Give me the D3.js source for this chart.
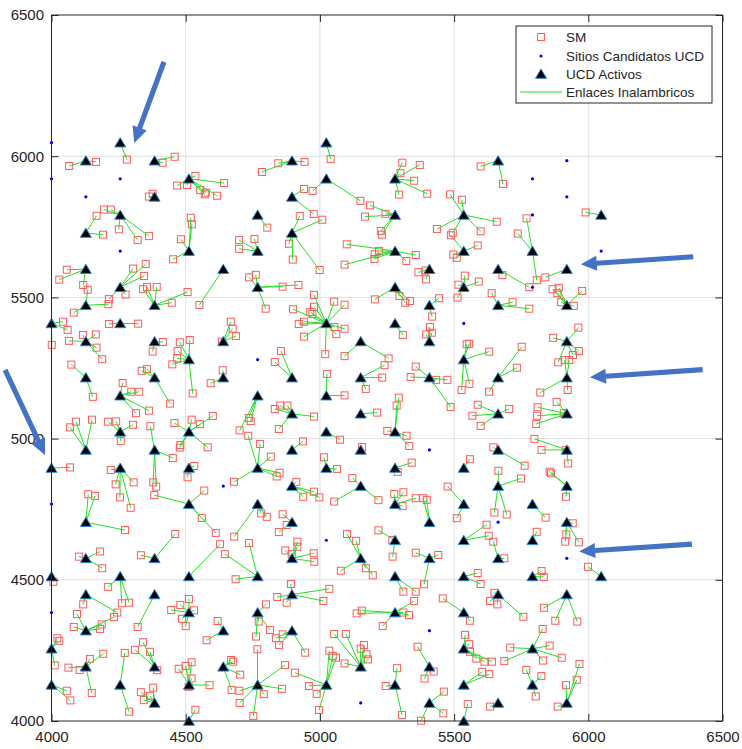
<!DOCTYPE html>
<html>
<head>
<meta charset="utf-8">
<script src="https://cdn.jsdelivr.net/npm/d3@7"></script>
<style>
  body { margin: 0; background: #fff; }
  svg { display: block; }
  text { font-family: "Liberation Sans", Arial, sans-serif; fill: #262626; }
</style>
</head>
<body>
<svg id="chart" width="742" height="749"></svg>
<script>
// --- Datos ---
const ticks = [4000, 4500, 5000, 5500, 6000, 6500];

// UCD activos (triangulos)
const ucdActivos = [
  [4256,6048],[5024,6048],
  [4128,5984],[4384,5984],[4896,5984],[5664,5984],
  [4512,5920],[5024,5920],[5280,5920],
  [4384,5856],[4896,5856],
  [4256,5792],[4768,5792],[5280,5792],[5536,5792],[6048,5792],
  [4128,5728],[4896,5728],
  [4512,5664],[4768,5664],[5280,5664],[5536,5664],[5792,5664],
  [4128,5600],[4640,5600],[5408,5600],[5664,5600],[5920,5600],
  [4256,5536],[4768,5536],[5280,5536],[5536,5536],
  [4128,5472],[4384,5472],[5408,5472],[5664,5472],[5920,5472],
  [4000,5408],[4256,5408],[5024,5408],[5280,5408],
  [4128,5344],[4384,5344],[4640,5344],[5152,5344],[5408,5344],[5920,5344],
  [4512,5280],[5536,5280],
  [4128,5216],[4384,5216],[4640,5216],[4896,5216],[5152,5216],[5408,5216],[5664,5216],[5920,5216],
  [4256,5152],[4768,5152],[5024,5152],
  [4896,5088],[5152,5088],[5664,5088],[5920,5088],
  [4256,5024],[4512,5024],[5024,5024],[5280,5024],
  [4128,4960],[4384,4960],[4896,4960],[5152,4960],[5664,4960],[5920,4960],
  [4000,4896],[4256,4896],[4512,4896],[4768,4896],[5024,4896],[5280,4896],[5536,4896],
  [4896,4832],[5152,4832],[5664,4832],[5920,4832],
  [4512,4768],[4768,4768],[5280,4768],[5536,4768],[5792,4768],
  [4128,4704],[4896,4704],[5408,4704],[5920,4704],
  [5280,4640],[5536,4640],[5792,4640],
  [4128,4576],[4384,4576],[4896,4576],[5152,4576],[5408,4576],[5664,4576],
  [4000,4512],[4256,4512],[4512,4512],[4768,4512],[5280,4512],[5536,4512],[5792,4512],[6048,4512],
  [4128,4448],[4384,4448],[4896,4448],[5664,4448],[5920,4448],
  [4512,4384],[4768,4384],[5280,4384],[5536,4384],
  [4128,4320],[4640,4320],[4896,4320],
  [4000,4256],[5536,4256],[5792,4256],
  [4128,4192],[4384,4192],[4640,4192],[5152,4192],[5408,4192],
  [4000,4128],[4256,4128],[4512,4128],[4768,4128],[5024,4128],[5280,4128],[5536,4128],[5792,4128],
  [4384,4064],[5408,4064],[5664,4064],[5920,4064],
  [4512,4000],[5536,4000]
];

// Sitios candidatos no usados (puntos azules)
const sitiosCandidatos = [
  [4000,6048],[4000,5920],[4256,5920],[4128,5856],[4256,5664],[4768,5280],
  [4640,4832],[4000,4768],[4000,4384],[5024,4640],[5152,4064],[5408,4320],
  [5536,5408],[5792,5536],[5408,4960],[5664,4704],[5920,4576],[6048,5664],
  [5792,5920],[5920,5984],[5920,5856],[5792,5792]
];

// SM: [x, y, x UCD, y UCD]
const sm = [
  [4066,5965,4128,5984],[4166,5980,4128,5984],[4281,5988,4256,6048],[4414,5977,4384,5984],[4459,5998,4384,5984],
  [4468,5896,4512,5920],[4505,5898,4512,5920],[4536,5930,4512,5920],[4554,5880,4512,5920],[4575,5871,4512,5920],
  [4571,5865,4512,5920],[4617,5860,4512,5920],[4643,5905,4512,5920],[4377,5867,4384,5856],[4363,5857,4384,5856],
  [4196,5811,4256,5792],[4221,5811,4256,5792],[4168,5789,4128,5728],[4251,5741,4256,5792],[4321,5703,4256,5792],
  [4363,5717,4256,5792],[4192,5722,4128,5728],[4482,5706,4512,5664],[4519,5782,4512,5664],[4523,5759,4512,5664],
  [5040,5990,5024,6048],[4845,5975,4896,5984],[4943,5980,4896,5984],[4784,5944,4896,5984],[4941,5884,4896,5856],
  [4973,5877,5024,5920],[5151,5842,5024,5920],[5187,5826,5280,5792],[5244,5796,5280,5792],[5168,5786,5280,5792],
  [5227,5735,5280,5792],[5231,5722,5280,5792],[4977,5795,4896,5856],[4804,5747,4768,5792],[4925,5788,4896,5728],
  [5009,5775,4896,5728],[4885,5690,4896,5728],[4699,5703,4768,5664],[4756,5707,4768,5664],[4699,5672,4768,5664],
  [5100,5688,5280,5664],[5307,5977,5280,5920],[5372,5969,5280,5920],[5300,5940,5280,5920],[5351,5913,5280,5920],
  [5400,5867,5280,5920],[5295,5864,5280,5920],[5599,5964,5664,5984],[5682,5902,5664,5984],[5485,5865,5536,5792],
  [5529,5846,5536,5792],[5659,5768,5536,5792],[5436,5742,5536,5792],[5599,5734,5536,5792],[5495,5729,5536,5792],
  [5488,5720,5536,5664],[5588,5684,5536,5664],[5770,5780,5792,5664],[5737,5726,5792,5664],[5990,5801,6048,5792],
  [4453,5635,4512,5664],[4057,5598,4128,5600],[4029,5563,4128,5600],[4118,5544,4128,5600],[4135,5527,4128,5472],
  [4304,5602,4256,5536],[4351,5618,4256,5536],[4345,5576,4256,5536],[4276,5510,4256,5536],[4214,5494,4256,5536],
  [4212,5476,4128,5472],[4083,5446,4128,5472],[4341,5529,4384,5472],[4356,5537,4384,5472],[4392,5537,4384,5472],
  [4448,5481,4384,5472],[4507,5519,4384,5472],[4551,5473,4640,5600],[4043,5414,4000,5408],[4060,5385,4000,5408],
  [4001,5332,4000,5408],[4214,5406,4256,5408],[4323,5407,4256,5408],[4065,5346,4128,5344],[4117,5367,4128,5344],
  [4165,5369,4128,5344],[4168,5322,4128,5344],[4189,5281,4128,5344],[4415,5342,4384,5344],[4377,5308,4384,5344],
  [4478,5341,4512,5280],[4515,5349,4512,5280],[4468,5284,4512,5280],[4450,5263,4512,5280],[4470,5310,4512,5280],
  [4526,5160,4512,5280],[4593,5196,4640,5216],[4074,5262,4128,5216],[4154,5148,4128,5216],[4336,5240,4384,5216],
  [4356,5246,4384,5216],[4442,5124,4384,5216],[4265,5197,4256,5152],[4297,5166,4256,5152],[4327,5166,4256,5152],
  [4315,5090,4256,5152],[4363,5099,4256,5152],[4069,5040,4128,4960],[4091,5060,4128,4960],[4151,5067,4128,4960],
  [4211,5060,4256,5024],[4241,5061,4256,5024],[4304,5049,4256,5024],[4258,4992,4256,5024],[4368,5044,4384,4960],
  [4452,4931,4384,4960],[4458,5055,4512,5024],[4522,5067,4512,5024],[4553,5051,4512,5024],[4601,5080,4512,5024],
  [4480,4977,4512,5024],[4478,4968,4512,5024],[4582,4969,4512,5024],[4069,4898,4000,4896],[4221,4889,4256,4896],
  [4239,4838,4256,4896],[4306,4845,4256,4896],[4532,4903,4512,4896],[4507,4863,4512,4896],[4379,4845,4384,4960],
  [4390,4830,4384,4960],[4899,5634,4896,5728],[4999,5597,4896,5728],[5092,5616,5280,5664],[5203,5636,5280,5664],
  [5204,5653,5280,5664],[5220,5664,5280,5664],[4736,5571,4768,5536],[4761,5580,4768,5536],[4861,5538,4768,5536],
  [4920,5544,4768,5536],[4798,5460,4768,5536],[4978,5509,5024,5408],[5053,5485,5024,5408],[5092,5474,5024,5408],
  [4900,5458,5024,5408],[4978,5467,5024,5408],[4964,5448,5024,5408],[4972,5441,5024,5408],[4921,5406,5024,5408],
  [4941,5414,5024,5408],[5054,5395,5024,5408],[5061,5370,5024,5408],[5092,5389,5024,5408],[4941,5361,5024,5408],
  [5020,5299,5024,5408],[5205,5493,5280,5536],[4668,5414,4640,5344],[4675,5389,4640,5344],[4687,5363,4640,5344],
  [4635,5343,4640,5344],[5092,5292,5152,5344],[5256,5284,5152,5344],[5241,5260,5152,5216],[5232,5216,5152,5216],
  [5171,5176,5152,5216],[4855,5310,4896,5216],[4832,5271,4896,5216],[4638,5242,4640,5216],[5026,5229,5024,5152],
  [5092,5153,5024,5152],[4735,5073,4768,5152],[4742,5062,4768,5152],[4701,5029,4768,5152],[4852,5117,4896,5088],
  [4879,5117,4896,5088],[4832,5105,4896,5088],[4978,5078,4896,5088],[4847,5034,4896,5088],[5213,5092,5152,5088],
  [5075,4996,5024,5024],[5251,5027,5280,5024],[4937,4990,4896,4960],[4733,5010,4768,4896],[4777,4981,4768,4896],
  [4817,4936,4768,4896],[4680,4847,4768,4896],[4839,4866,4768,4896],[4850,4879,4768,4896],[4912,4847,4896,4832],
  [5157,4970,5152,4960],[5015,4934,5024,4896],[5064,4892,5024,4896],[5121,4860,5152,4832],[5357,5650,5280,5664],
  [5322,5629,5280,5664],[5510,5640,5536,5664],[5497,5652,5536,5664],[5367,5589,5408,5600],[5394,5595,5408,5600],
  [5395,5564,5408,5600],[5680,5579,5664,5600],[5780,5536,5664,5600],[5808,5561,5792,5664],[5840,5571,5920,5600],
  [5540,5577,5536,5536],[5516,5545,5536,5536],[5592,5556,5536,5536],[5513,5499,5536,5536],[5296,5505,5280,5536],
  [5318,5481,5280,5536],[5336,5487,5280,5536],[5444,5497,5408,5472],[5418,5432,5408,5472],[5640,5515,5664,5472],
  [5718,5483,5664,5472],[5780,5460,5664,5472],[5867,5529,5920,5472],[5890,5534,5920,5472],[5885,5515,5920,5472],
  [5899,5483,5920,5472],[5977,5523,5920,5472],[5946,5470,5920,5472],[5309,5367,5280,5408],[5410,5395,5408,5344],
  [5396,5369,5408,5344],[5417,5375,5408,5344],[5547,5334,5536,5280],[5556,5336,5536,5280],[5631,5308,5536,5280],
  [5528,5172,5536,5280],[5557,5194,5536,5280],[5752,5325,5664,5216],[5734,5251,5664,5216],[5630,5166,5664,5216],
  [5869,5357,5920,5344],[5963,5393,5920,5344],[5965,5310,5920,5344],[5943,5296,5920,5344],[5929,5278,5920,5216],
  [5912,5278,5920,5216],[5888,5270,5920,5344],[5821,5163,5920,5216],[5923,5172,5920,5216],[5357,5255,5408,5216],
  [5338,5218,5408,5216],[5433,5208,5408,5216],[5475,5208,5408,5216],[5487,5112,5408,5216],[5294,5145,5280,5024],
  [5286,5117,5280,5024],[5323,5010,5280,5024],[5333,4974,5280,5024],[5588,5120,5664,5088],[5568,5081,5664,5088],
  [5599,5045,5664,5088],[5705,5105,5664,5088],[5811,5111,5920,5088],[5809,5081,5920,5088],[5806,5052,5920,5088],
  [5882,5130,5920,5088],[5909,5090,5920,5088],[5799,4999,5920,4960],[5826,4960,5920,4960],[5916,4959,5920,4960],
  [5925,4912,5920,4960],[5646,4969,5664,4960],[5763,4904,5664,4960],[5559,4927,5536,4896],[5342,4915,5280,4896],
  [5290,4882,5280,4896],[5665,4886,5664,4832],[5749,4859,5664,4832],[5856,4883,5920,4832],[5861,4877,5920,4832],
  [4137,4803,4128,4704],[4162,4797,4128,4704],[4274,4676,4128,4704],[4255,4792,4256,4896],[4295,4755,4256,4896],
  [4383,4800,4512,4768],[4569,4816,4512,4768],[4560,4719,4512,4768],[4612,4666,4512,4768],[4102,4582,4128,4576],
  [4181,4600,4128,4576],[4189,4541,4128,4576],[4333,4587,4384,4576],[4461,4662,4384,4576],[4628,4626,4512,4512],
  [4646,4591,4768,4512],[4007,4493,4000,4512],[4211,4475,4256,4512],[4262,4417,4256,4512],[4289,4419,4256,4512],
  [4118,4413,4128,4448],[4245,4384,4128,4448],[4233,4368,4128,4320],[4095,4379,4128,4320],[4083,4333,4128,4320],
  [4181,4326,4128,4320],[4187,4342,4128,4320],[4321,4333,4384,4448],[4446,4393,4512,4384],[4480,4411,4512,4384],
  [4512,4432,4512,4384],[4531,4392,4512,4384],[4486,4362,4512,4384],[4500,4336,4512,4384],[4619,4354,4640,4320],
  [4578,4286,4640,4320],[4022,4293,4000,4256],[4029,4284,4000,4256],[4012,4197,4000,4256],[4143,4220,4128,4192],
  [4193,4238,4128,4192],[4063,4189,4128,4192],[4105,4181,4128,4192],[4150,4099,4128,4192],[4273,4241,4256,4128],
  [4289,4033,4256,4128],[4311,4252,4384,4192],[4341,4279,4384,4192],[4367,4245,4384,4192],[4394,4180,4384,4192],
  [4057,4107,4000,4128],[4070,4073,4000,4128],[4333,4102,4384,4064],[4344,4074,4384,4064],[4367,4089,4384,4064],
  [4379,4118,4384,4064],[4474,4185,4512,4128],[4500,4195,4512,4128],[4522,4208,4512,4128],[4522,4151,4512,4128],
  [4511,4121,4512,4128],[4589,4127,4512,4128],[4536,4040,4512,4000],[4938,4794,4896,4832],[4978,4812,4896,4832],
  [4998,4792,4896,4832],[5218,4782,5152,4832],[5053,4777,5152,4832],[4781,4735,4768,4768],[4802,4723,4768,4768],
  [4681,4653,4768,4768],[4861,4732,4896,4704],[4876,4694,4896,4704],[4847,4669,4896,4704],[4736,4630,4768,4512],
  [4686,4502,4768,4512],[4916,4635,4896,4576],[4916,4617,4896,4576],[4871,4604,4896,4576],[4895,4591,4896,4576],
  [4977,4594,4896,4576],[4979,4564,4896,4576],[4892,4485,4896,4448],[4841,4439,4896,4448],[4876,4419,4896,4448],
  [5035,4468,4896,4448],[5013,4425,4896,4448],[5101,4662,5152,4576],[5135,4638,5152,4576],[5218,4675,5280,4640],
  [5171,4541,5152,4576],[5197,4516,5152,4576],[5078,4532,5152,4576],[4799,4413,4768,4384],[4772,4352,4768,4384],
  [4814,4322,4768,4384],[4762,4299,4768,4384],[4861,4307,4896,4320],[4836,4293,4896,4320],[4848,4269,4896,4320],
  [4945,4242,4896,4320],[4669,4216,4640,4192],[4677,4210,4640,4192],[4703,4164,4640,4192],[4671,4110,4640,4192],
  [4767,4254,4768,4128],[4870,4198,4768,4128],[4859,4114,4768,4128],[4791,4095,4768,4128],[4700,4107,4768,4128],
  [4701,4064,4768,4128],[4752,4018,4768,4128],[4907,4171,5024,4128],[4959,4124,5024,4128],[4988,4096,5024,4128],
  [5035,4249,5024,4128],[5048,4230,5024,4128],[5060,4224,5024,4128],[4997,4039,5024,4128],[5053,4308,5152,4192],
  [5097,4308,5152,4192],[5152,4256,5152,4192],[5164,4269,5152,4192],[5174,4236,5152,4192],[5179,4218,5152,4192],
  [5092,4204,5152,4192],[5137,4381,5280,4384],[5156,4391,5280,4384],[5234,4336,5280,4384],[5245,4124,5280,4128],
  [5270,4641,5280,4640],[5271,4582,5280,4640],[5277,4804,5280,4768],[5311,4810,5280,4768],[5308,4761,5280,4768],
  [5357,4789,5280,4768],[5385,4789,5408,4704],[5398,4783,5408,4704],[5476,4830,5536,4768],[5510,4718,5536,4768],
  [5650,4738,5664,4832],[5696,4731,5664,4832],[5841,4720,5792,4768],[5917,4794,5920,4832],[5621,4695,5536,4640],
  [5629,4656,5536,4640],[5646,4635,5664,4576],[5687,4576,5664,4576],[5808,4670,5792,4640],[5942,4700,5920,4704],
  [5918,4661,5920,4704],[5914,4635,5920,4704],[5965,4633,5920,4704],[5357,4596,5408,4576],[5441,4588,5408,4576],
  [5388,4484,5408,4576],[5588,4524,5536,4512],[5599,4485,5536,4512],[5826,4531,5792,4512],[5834,4510,5792,4512],
  [5311,4458,5280,4512],[5357,4458,5280,4512],[5650,4454,5664,4448],[5634,4425,5664,4448],[5661,4413,5664,4448],
  [5758,4369,5664,4448],[5835,4401,5920,4448],[5877,4355,5920,4448],[5959,4352,5920,4448],[5351,4425,5280,4384],
  [5332,4375,5280,4384],[5311,4384,5280,4384],[5458,4434,5536,4384],[5559,4355,5536,4384],[5364,4263,5408,4192],
  [5390,4150,5408,4192],[5424,4175,5408,4192],[5541,4305,5536,4256],[5556,4272,5536,4256],[5559,4245,5536,4256],
  [5583,4221,5536,4256],[5613,4210,5536,4256],[5641,4210,5536,4256],[5709,4260,5792,4256],[5687,4212,5792,4256],
  [5830,4326,5792,4256],[5856,4267,5792,4256],[5901,4224,5792,4256],[5831,4214,5792,4256],[5287,4187,5280,4128],
  [5306,4021,5280,4128],[5605,4174,5536,4128],[5631,4166,5536,4128],[5769,4181,5792,4128],[5825,4159,5792,4128],
  [5804,4087,5792,4128],[5462,4104,5408,4064],[5460,4027,5408,4064],[5377,4001,5408,4064],[5551,4060,5536,4000],
  [5634,4051,5664,4064],[5917,4127,5920,4064],[5886,4051,5920,4064],[5967,4202,5920,4064],[5957,4146,5920,4064],
  [5999,4546,6048,4512]
];

// Flechas de anotacion: [x cola, y cola, x punta, y punta] en unidades de los ejes
const flechas = [
  [4419,6334,4308,6047],
  [6391,5644,5972,5617],
  [6426,5244,6006,5217],
  [6386,4626,5966,4600],
  [3827,5243,3976,4942]
];

const leyenda = ['SM', 'Sitios Candidatos UCD', 'UCD Activos', 'Enlaces Inalambricos'];

// --- Escalas ---
const mL = 51.5, mR = 722.5, mT = 15, mB = 721;
const x = d3.scaleLinear().domain([4000, 6500]).range([mL, mR]);
const y = d3.scaleLinear().domain([4000, 6500]).range([mB, mT]);

const svg = d3.select('#chart');
svg.append('rect').attr('width', 742).attr('height', 749).attr('fill', '#fff');

// rejilla
const grid = svg.append('g').attr('stroke', '#dfdfdf').attr('stroke-width', 1);
const inner = ticks.slice(1, -1);
grid.selectAll('.gx').data(inner).join('line')
  .attr('x1', d => x(d)).attr('x2', d => x(d)).attr('y1', mT).attr('y2', mB);
grid.selectAll('.gy').data(inner).join('line')
  .attr('y1', d => y(d)).attr('y2', d => y(d)).attr('x1', mL).attr('x2', mR);

// SM (cuadrados)
svg.append('g').selectAll('rect').data(sm).join('rect')
  .attr('x', d => x(d[0]) - 3.5).attr('y', d => y(d[1]) - 3.5)
  .attr('width', 7).attr('height', 7)
  .attr('fill', 'none').attr('stroke', '#ff5a5a').attr('stroke-width', 1);

// enlaces
svg.append('g').selectAll('line').data(sm).join('line')
  .attr('x1', d => x(d[0])).attr('y1', d => y(d[1]))
  .attr('x2', d => x(d[2])).attr('y2', d => y(d[3]))
  .attr('stroke', '#22e022').attr('stroke-width', 1);

// sitios candidatos
svg.append('g').selectAll('circle').data(sitiosCandidatos).join('circle')
  .attr('cx', d => x(d[0])).attr('cy', d => y(d[1])).attr('r', 1.6)
  .attr('fill', '#0000ff');

// UCD activos
const tri = 'M0,-5L5.5,4.3L-5.5,4.3Z';
svg.append('g').selectAll('path').data(ucdActivos).join('path')
  .attr('d', tri)
  .attr('transform', d => `translate(${x(d[0])},${y(d[1])})`)
  .attr('fill', '#000').attr('stroke', '#2f87d4').attr('stroke-width', 1);

// caja
svg.append('rect').attr('x', mL).attr('y', mT)
  .attr('width', mR - mL).attr('height', mB - mT)
  .attr('fill', 'none').attr('stroke', '#262626').attr('stroke-width', 1);

// ejes
function estilo(g) {
  g.select('.domain').remove();
  g.selectAll('line').attr('stroke', '#262626');
  g.selectAll('text').attr('font-size', 15).attr('fill', '#262626')
    .attr('font-family', '"Liberation Sans", Arial, sans-serif');
}
svg.append('g').attr('transform', `translate(0,${mB})`)
  .call(d3.axisBottom(x).tickValues(ticks).tickFormat(d3.format('d')).tickSizeInner(-7).tickSizeOuter(0).tickPadding(10.5))
  .call(estilo);
svg.append('g').attr('transform', `translate(0,${mT})`)
  .call(d3.axisTop(x).tickValues(ticks).tickFormat('').tickSizeInner(-7).tickSizeOuter(0))
  .call(estilo);
svg.append('g').attr('transform', `translate(${mL},0)`)
  .call(d3.axisLeft(y).tickValues(ticks).tickFormat(d3.format('d')).tickSizeInner(-7).tickSizeOuter(0).tickPadding(7.5))
  .call(estilo);
svg.append('g').attr('transform', `translate(${mR},0)`)
  .call(d3.axisRight(y).tickValues(ticks).tickFormat('').tickSizeInner(-7).tickSizeOuter(0))
  .call(estilo);

// leyenda
const lg = svg.append('g').attr('transform', 'translate(516,26)');
lg.append('rect').attr('width', 196).attr('height', 77)
  .attr('fill', '#fff').attr('stroke', '#262626').attr('stroke-width', 1);
const rowY = [11, 30, 48, 66];
lg.append('rect').attr('x', 25 - 3.5).attr('y', rowY[0] - 3.5).attr('width', 7).attr('height', 7)
  .attr('fill', 'none').attr('stroke', '#ff5a5a');
lg.append('circle').attr('cx', 25).attr('cy', rowY[1]).attr('r', 1.6).attr('fill', '#0000ff');
lg.append('path').attr('d', tri).attr('transform', `translate(25,${rowY[2]})`)
  .attr('fill', '#000').attr('stroke', '#2f87d4');
lg.append('line').attr('x1', 4).attr('x2', 46).attr('y1', rowY[3]).attr('y2', rowY[3])
  .attr('stroke', '#22e022');
lg.selectAll('text').data(leyenda).join('text')
  .attr('x', 50).attr('y', (d, i) => rowY[i]).attr('dy', '0.35em')
  .attr('font-size', 13.5).text(d => d);

// flechas
const hl = 16, hw = 7.5, sw = 2.6;
svg.append('g').selectAll('path').data(flechas).join('path')
  .attr('d', a => {
    const x1 = x(a[0]), y1 = y(a[1]), x2 = x(a[2]), y2 = y(a[3]);
    const len = Math.hypot(x2 - x1, y2 - y1);
    const ux = (x2 - x1) / len, uy = (y2 - y1) / len, nx = -uy, ny = ux;
    const bx = x2 - ux * hl, by = y2 - uy * hl;
    const pts = [
      [x1 + nx * sw, y1 + ny * sw], [bx + nx * sw, by + ny * sw], [bx + nx * hw, by + ny * hw],
      [x2, y2], [bx - nx * hw, by - ny * hw], [bx - nx * sw, by - ny * sw], [x1 - nx * sw, y1 - ny * sw]
    ];
    return 'M' + pts.map(p => p.join(',')).join('L') + 'Z';
  })
  .attr('fill', '#4472c4');
</script>
</body>
</html>
